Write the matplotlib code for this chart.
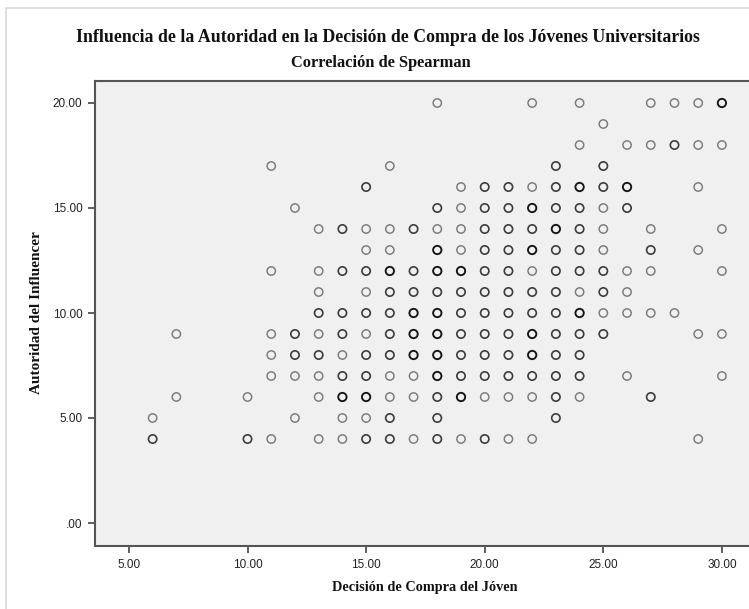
import matplotlib
matplotlib.use("Agg")
import matplotlib.pyplot as plt
from matplotlib.patches import Rectangle

# ---- data: Decisión de Compra (x) for each Autoridad level (y), with overlap count ----
y20_x = [18, 22, 24, 27, 28, 29, 30]
y20_n = [1, 1, 1, 1, 1, 1, 3]
y19_x = [25]
y19_n = [1]
y18_x = [24, 26, 27, 28, 29, 30]
y18_n = [1, 1, 1, 2, 1, 1]
y17_x = [11, 16, 23, 25]
y17_n = [1, 1, 2, 2]
y16_x = [15, 19, 20, 21, 22, 23, 24, 25, 26, 29]
y16_n = [2, 1, 2, 2, 1, 2, 3, 2, 3, 1]
y15_x = [12, 18, 19, 20, 21, 22, 23, 24, 25, 26]
y15_n = [1, 2, 1, 2, 2, 3, 2, 2, 1, 2]
y14_x = [13, 14, 15, 16, 17, 18, 19, 20, 21, 22, 23, 24, 25, 27, 30]
y14_n = [1, 2, 1, 1, 2, 1, 1, 2, 2, 2, 3, 2, 1, 1, 1]
y13_x = [15, 16, 18, 19, 20, 21, 22, 23, 24, 25, 27, 29]
y13_n = [1, 1, 3, 1, 2, 2, 3, 2, 2, 1, 2, 1]
y12_x = [11, 13, 14, 15, 16, 17, 18, 19, 20, 21, 22, 23, 24, 25, 26, 27, 30]
y12_n = [1, 1, 2, 2, 3, 2, 3, 3, 2, 2, 1, 2, 2, 2, 1, 1, 1]
y11_x = [13, 15, 16, 17, 18, 19, 20, 21, 22, 23, 24, 25, 26]
y11_n = [1, 1, 2, 2, 2, 2, 2, 2, 2, 2, 1, 2, 1]
y10_x = [13, 14, 15, 16, 17, 18, 19, 20, 21, 22, 23, 24, 25, 26, 27, 28]
y10_n = [2, 2, 2, 2, 3, 3, 2, 2, 2, 2, 2, 3, 1, 1, 1, 1]
y9_x = [7, 11, 12, 13, 14, 15, 16, 17, 18, 19, 20, 21, 22, 23, 24, 25, 29, 30]
y9_n = [1, 1, 2, 1, 2, 1, 2, 3, 3, 2, 2, 2, 3, 2, 2, 2, 1, 1]
y8_x = [11, 12, 13, 14, 15, 16, 17, 18, 19, 20, 21, 22, 23, 24]
y8_n = [1, 2, 2, 1, 2, 2, 3, 3, 2, 2, 2, 3, 2, 2]
y7_x = [11, 12, 13, 14, 15, 16, 17, 18, 19, 20, 21, 22, 23, 24, 26, 30]
y7_n = [1, 1, 1, 2, 2, 1, 1, 3, 2, 2, 2, 2, 2, 2, 1, 1]
y6_x = [7, 10, 13, 14, 15, 16, 17, 18, 19, 20, 21, 22, 23, 24, 27]
y6_n = [1, 1, 1, 3, 3, 1, 1, 2, 3, 1, 1, 1, 2, 1, 2]
y5_x = [6, 12, 14, 15, 16, 18, 23]
y5_n = [1, 1, 1, 1, 2, 2, 2]
y4_x = [6, 10, 11, 13, 14, 15, 16, 17, 18, 19, 20, 21, 22, 29]
y4_n = [2, 2, 1, 1, 1, 2, 2, 1, 2, 1, 2, 1, 1, 1]

x_ticks = [5, 10, 15, 20, 25, 30]
x_tick_labels = ["5.00", "10.00", "15.00", "20.00", "25.00", "30.00"]
y_ticks = [0, 5, 10, 15, 20]
y_tick_labels = [".00", "5.00", "10.00", "15.00", "20.00"]

title = "Influencia de la Autoridad en la Decisión de Compra de los Jóvenes Universitarios"
subtitle = "Correlación de Spearman"
x_label = "Decisión de Compra del Jóven"
y_label = "Autoridad del Influencer"

rows = [
    (20, y20_x, y20_n), (19, y19_x, y19_n), (18, y18_x, y18_n), (17, y17_x, y17_n),
    (16, y16_x, y16_n), (15, y15_x, y15_n), (14, y14_x, y14_n), (13, y13_x, y13_n),
    (12, y12_x, y12_n), (11, y11_x, y11_n), (10, y10_x, y10_n), (9, y9_x, y9_n),
    (8, y8_x, y8_n), (7, y7_x, y7_n), (6, y6_x, y6_n), (5, y5_x, y5_n), (4, y4_x, y4_n),
]
xs, ys, ns = [], [], []
for yv, xl, nl in rows:
    for xv, nv in zip(xl, nl):
        xs.append(xv)
        ys.append(yv)
        ns.append(nv)

shade = {1: "#7a7a7a", 2: "#3c3c3c", 3: "#141414"}
lw = {1: 1.05, 2: 1.2, 3: 1.35}

W, H = 749, 609
fig = plt.figure(figsize=(W / 100, H / 100), dpi=100)
fig.patch.set_facecolor("white")

# outer light frame
fig.patches.append(Rectangle((6 / W, -0.1), 1.2, 1 - 8 / H + 0.1, transform=fig.transFigure,
                             fill=False, edgecolor="#d9d9d9", linewidth=1.2))

ax_l, ax_r, ax_t, ax_b = 95, 760, 81, 546
ax = fig.add_axes([ax_l / W, 1 - ax_b / H, (ax_r - ax_l) / W, (ax_b - ax_t) / H])
ax.set_facecolor("#f0f0f0")

for level in (1, 2, 3):
    px = [x for x, n in zip(xs, ns) if n == level]
    py = [y for y, n in zip(ys, ns) if n == level]
    ax.scatter(px, py, s=36, facecolors="none", edgecolors=shade[level],
               linewidths=lw[level], zorder=3)

ax.set_xlim(3.57, 3.57 + (ax_r - ax_l) / 23.72)
ax.set_ylim(-(ax_b - 523) / 21.0, (523 - ax_t) / 21.0)

ax.set_xticks(x_ticks)
ax.set_xticklabels(x_tick_labels)
ax.set_yticks(y_ticks)
ax.set_yticklabels(y_tick_labels)
ax.tick_params(axis="both", direction="out", length=5, width=1.2, color="#444444",
               labelsize=8.5, labelcolor="#222222", pad=4)
for lab in ax.get_xticklabels() + ax.get_yticklabels():
    lab.set_fontfamily("Liberation Sans")

for side in ("left", "bottom", "top"):
    ax.spines[side].set_color("#555555")
    ax.spines[side].set_linewidth(1.5)
ax.spines["right"].set_visible(False)

serif = dict(fontfamily="Liberation Serif", fontweight="bold", color="#111111")
fig.text(388 / W, 1 - 37 / H, title, ha="center", va="center", fontsize=12.8, **serif)
fig.text(381 / W, 1 - 63 / H, subtitle, ha="center", va="center", fontsize=11.8, **serif)
fig.text(425 / W, 1 - 588 / H, x_label, ha="center", va="center", fontsize=10.3, **serif)
fig.text(37 / W, 1 - 313 / H, y_label, ha="center", va="center", rotation=90, fontsize=11, **serif)

fig.savefig("out.png", dpi=100)
